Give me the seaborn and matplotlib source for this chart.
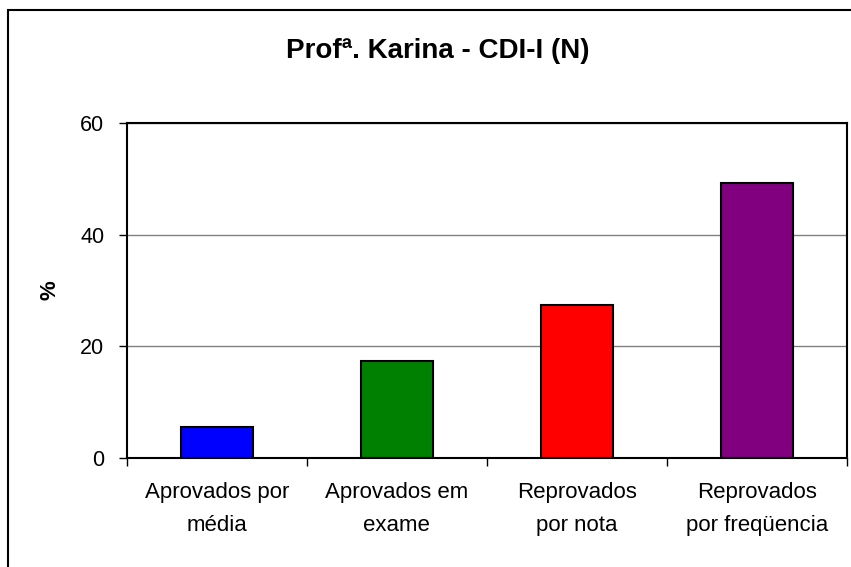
import numpy as np
import pandas as pd
import matplotlib
matplotlib.use('Agg')
import matplotlib.pyplot as plt
from matplotlib.patches import Rectangle
from matplotlib.ticker import FixedLocator, NullFormatter
import seaborn as sns

categorias = ['Aprovados por\nmédia', 'Aprovados em\nexame', 'Reprovados\npor nota', 'Reprovados\npor freqüencia']
percentuais = [5.6, 17.4, 27.4, 49.2]
cores = ['#0000FF', '#008000', '#FF0000', '#800080']
yticks = [0, 20, 40, 60]

df = pd.DataFrame({'categoria': categorias, 'pct': percentuais})

sns.set_theme(style='white')
plt.rcParams['font.family'] = ['Liberation Sans', 'DejaVu Sans']
plt.rcParams['text.color'] = 'black'
plt.rcParams['axes.labelcolor'] = 'black'
plt.rcParams['xtick.color'] = 'black'
plt.rcParams['ytick.color'] = 'black'

fig = plt.figure(figsize=(8.51, 5.67), dpi=100)
ax = fig.add_axes([0.1489, 0.1917, 0.846, 0.5919])

sns.barplot(data=df, x='categoria', y='pct', hue='categoria', palette=cores, saturation=1,
            width=0.4, edgecolor='black', linewidth=1.5, legend=False, ax=ax)

ax.set_ylim(0, 60)
ax.set_xlim(-0.5, len(categorias) - 0.5)
ax.set_yticks(yticks)
ax.yaxis.grid(True, color='#808080', linewidth=1)
ax.set_axisbelow(True)

# ticks on the category boundaries, labels centred under bars
ax.xaxis.set_major_locator(FixedLocator(np.arange(-0.5, len(categorias), 1.0)))
ax.xaxis.set_major_formatter(NullFormatter())
ax.xaxis.set_minor_locator(FixedLocator(np.arange(len(categorias))))
ax.set_xticklabels(categorias, minor=True, fontsize=16, linespacing=1.75)
ax.tick_params(axis='x', which='major', direction='out', length=6, width=1, bottom=True)
ax.tick_params(axis='x', which='minor', length=0, pad=17)
ax.tick_params(axis='y', direction='out', length=6, width=1, left=True, labelsize=15.5, pad=10)

for s in ax.spines.values():
    s.set_color('black')
    s.set_linewidth(1.5)

ax.set_xlabel('')
ax.set_ylabel('%', fontsize=16, fontweight='bold', labelpad=14)
fig.text(0.514, 0.91, 'Profª. Karina - CDI-I (N)', ha='center', va='center',
         fontsize=20, fontweight='bold')

fig.patches.append(Rectangle((8 / 851, -0.05), 1.1, 1 - 10 / 567 + 0.05, transform=fig.transFigure,
                             fill=False, edgecolor='black', linewidth=1.5, clip_on=False))

fig.savefig('out.png', dpi=100)
